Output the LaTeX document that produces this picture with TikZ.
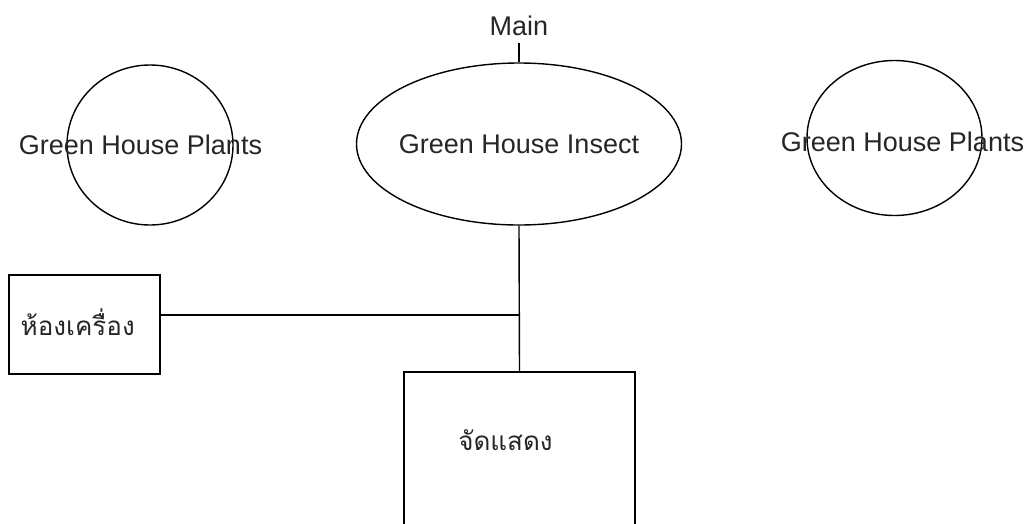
\documentclass[tikz,border=0pt]{standalone}
\usepackage{fontspec}
\setmainfont{Liberation Sans}
\newfontfamily\thaifont[Script=Thai]{Loma}
\usetikzlibrary{shapes.geometric}
\begin{document}
\begin{tikzpicture}[x=1pt,y=-1pt,
  line width=1.4pt,
  oval/.style={draw, ellipse, inner sep=0pt},
  boxnode/.style={draw, rectangle, inner sep=0pt},
  lbl/.style={inner sep=0pt, text=black!85, font=\fontsize{27}{30}\selectfont},
  thlbl/.style={inner sep=0pt, text=black!85, font=\thaifont\fontsize{26}{30}\selectfont}]
\useasboundingbox (0,0) rectangle (1031,523);
\clip (0,0) rectangle (1031,523);
% shapes
\node[oval, minimum width=166pt, minimum height=160pt] (plantsL) at (150,145) {};
\node[oval, minimum width=325pt, minimum height=162pt] (insect) at (519,144) {};
\node[oval, minimum width=175pt, minimum height=155pt] (plantsR) at (894.5,138) {};
\node[boxnode, minimum width=151pt, minimum height=99pt] (room) at (84.5,324.5) {};
\node[boxnode, minimum width=231pt, minimum height=250pt] (show) at (519.5,497) {};
% texts
\node[lbl, inner ysep=7pt, anchor=base] (main) at (519,35) {Main};
\node[lbl] (tL) at (140.5,145) {Green House Plants};
\node[lbl] (tI) at (519,144) {Green House Insect};
\node[lbl] (tR) at (902.5,142) {Green House Plants};
\node[thlbl, anchor=west] (troom) at (20,322) {ห้องเครื่อง};
\node[thlbl] (tshow) at (505.5,440) {จัดแสดง};
% connectors
\coordinate (junc) at (519,315);
\draw (main.south) -- (insect.north);
\draw (insect.south) -- (show.north);
\draw (room.east |- junc) -- (junc);
\end{tikzpicture}
\end{document}
